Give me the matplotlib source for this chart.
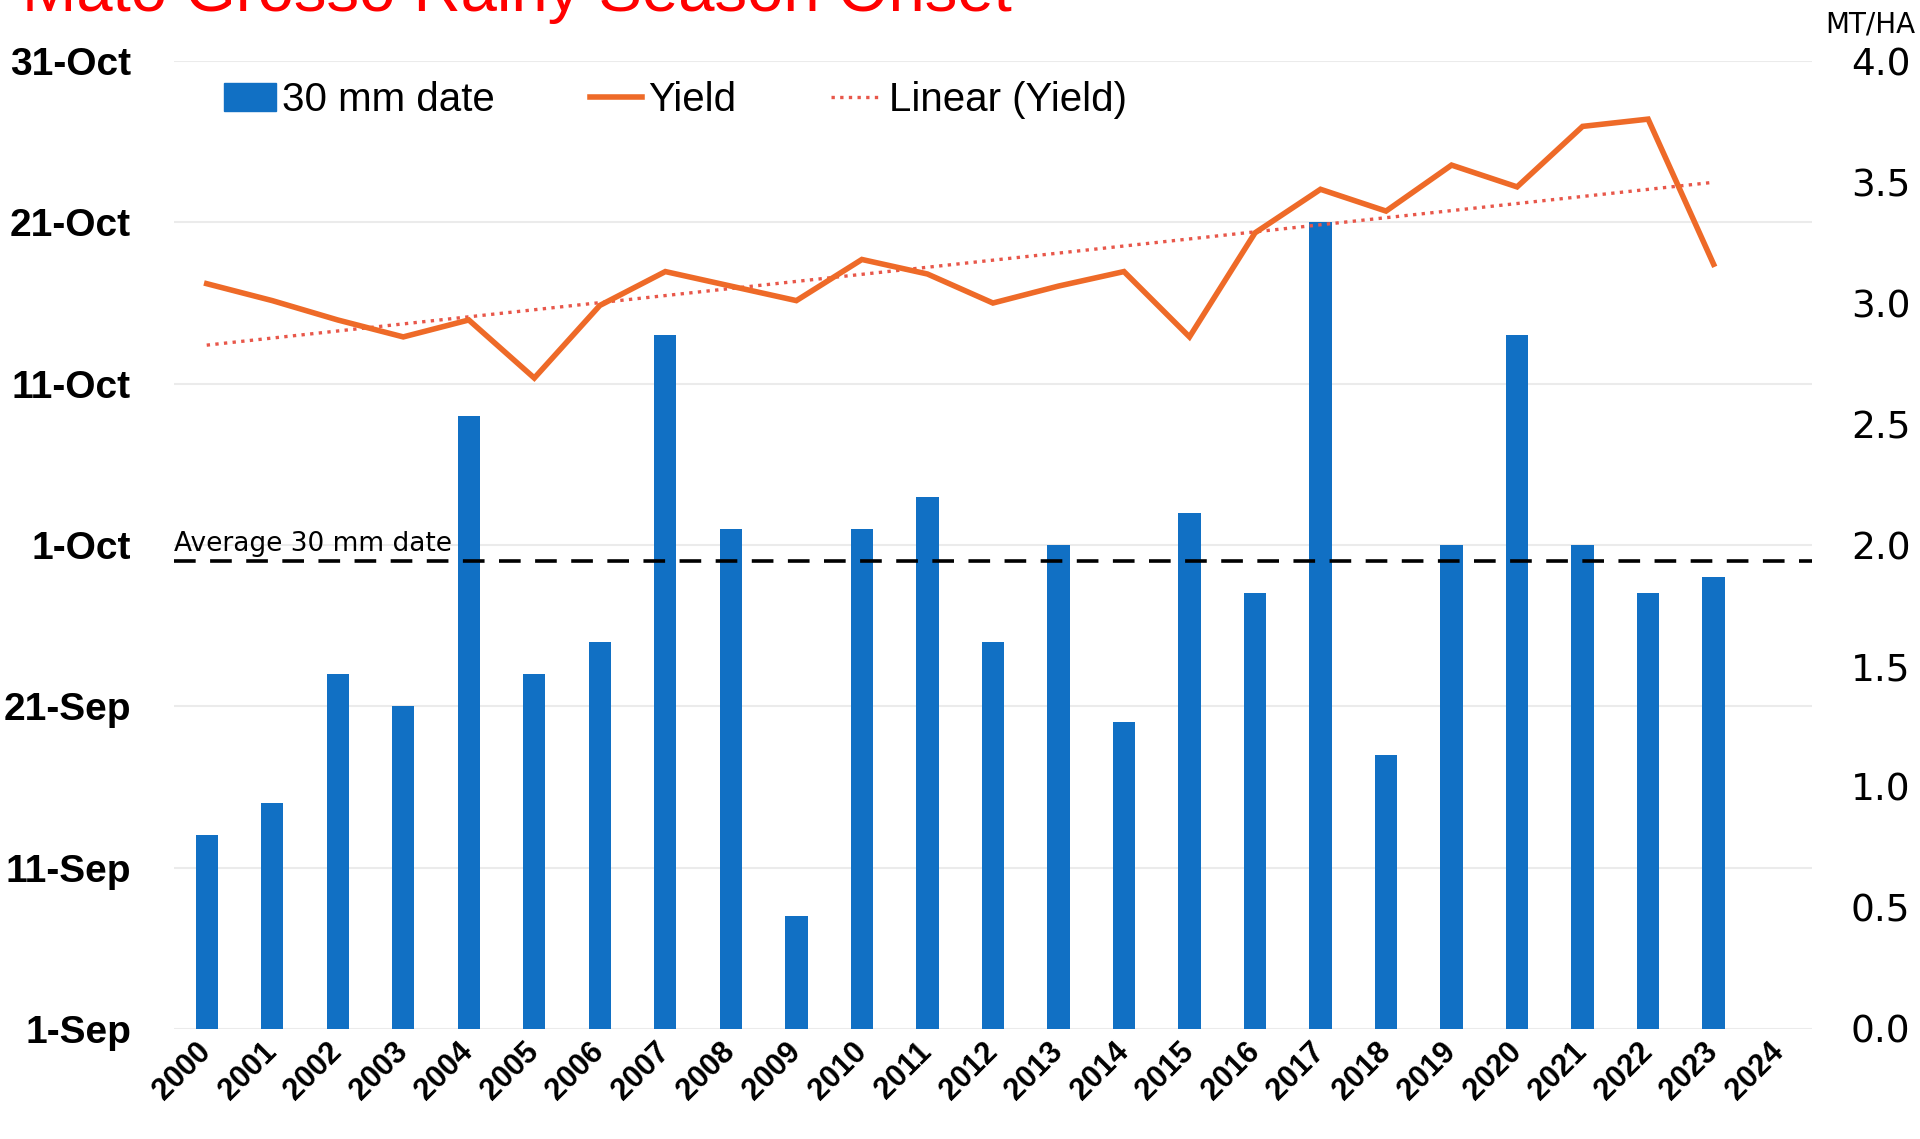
import matplotlib.pyplot as plt
import matplotlib.patches as mpatches
from matplotlib.lines import Line2D
import numpy as np

plt.rcParams['font.family'] = ['Liberation Sans', 'DejaVu Sans']

# data
years = [str(y) for y in range(2000, 2025)]
# 30 mm date, days after 1-Sep (2024 has no value)
onset_days = [12, 14, 22, 20, 38, 22, 24, 43, 31, 7, 31, 33, 24, 30, 19, 32, 27, 50, 17, 30, 43, 30, 27, 28]
# yield, MT/HA
yield_vals = [3.08, 3.01, 2.93, 2.86, 2.93, 2.69, 2.99, 3.13, 3.07, 3.01, 3.18, 3.12, 3.00, 3.07,
              3.13, 2.86, 3.29, 3.47, 3.38, 3.57, 3.48, 3.73, 3.76, 3.16]
avg_day = 29
day_ticks = [0, 10, 20, 30, 40, 50, 60]
day_labels = ['1-Sep', '11-Sep', '21-Sep', '1-Oct', '11-Oct', '21-Oct', '31-Oct']
yield_ticks = [0.0, 0.5, 1.0, 1.5, 2.0, 2.5, 3.0, 3.5, 4.0]

bar_color = '#1170C4'
line_color = '#EE6A28'
trend_color = '#E8574A'

fig = plt.figure(figsize=(19.2, 11.39), dpi=100)
ax = fig.add_axes([0.0906, 0.0966, 0.8531, 0.8498])

x = np.arange(len(years))
xb = np.arange(len(onset_days))
ax.bar(xb, onset_days, width=0.34, color=bar_color, zorder=2)
ax.axhline(avg_day, color='black', lw=2.6, dashes=(6, 4), zorder=3)
ax.text(-0.5, avg_day + 0.6, 'Average 30 mm date', fontsize=19, va='baseline', ha='left',
        family=['DejaVu Sans'], zorder=4)

ax.set_xlim(-0.5, 24.5)
ax.set_ylim(0, 60)
ax.set_yticks(day_ticks)
ax.set_yticklabels(day_labels, fontsize=28, fontweight='bold')
ax.set_xticks(x)
ax.set_xticklabels(years, fontsize=22, fontweight='bold', rotation=45, ha='right',
                   va='center', rotation_mode='anchor')
ax.tick_params(axis='y', length=0, pad=31)
ax.tick_params(axis='x', length=0, pad=13)
ax.yaxis.grid(True, color='#ebebeb', lw=1.5, zorder=0)
ax.set_axisbelow(True)
for s in ax.spines.values():
    s.set_visible(False)

# yield on the right axis
ax2 = ax.twinx()
ax2.plot(xb, yield_vals, color=line_color, lw=4, solid_joinstyle='miter', zorder=3)
coef = np.polyfit(xb, yield_vals, 1)
ax2.plot(xb, np.polyval(coef, xb), color=trend_color, lw=2.4, ls=(0, (1, 1.6)), zorder=2)
ax2.set_ylim(0, 4)
ax2.set_yticks(yield_ticks)
ax2.set_yticklabels([f'{v:.1f}' for v in yield_ticks], fontsize=27, family=['DejaVu Sans'])
ax2.tick_params(axis='y', length=0, pad=28)
for s in ax2.spines.values():
    s.set_visible(False)

handles = [
    mpatches.Patch(color=bar_color, label='30 mm date'),
    Line2D([], [], color=line_color, lw=4, label='Yield'),
    Line2D([], [], color=trend_color, lw=2.4, ls=(0, (1, 1.6)), label='Linear (Yield)'),
]
ax2.legend(handles=handles, loc='center left', bbox_to_anchor=(0.0305, 0.96), ncol=3,
           frameon=False, fontsize=29, handlelength=1.3, handletextpad=0.15,
           columnspacing=2.35, borderaxespad=0, borderpad=0)

fig.text(0.0115, 0.9905, 'Mato Grosso Rainy Season Onset', color='#FF0000', fontsize=47,
         ha='left', va='baseline')
fig.text(0.9975, 0.9785, 'MT/HA', fontsize=20, ha='right', va='center', family=['DejaVu Sans'])

fig.savefig('out.png', dpi=100)
plt.close()
